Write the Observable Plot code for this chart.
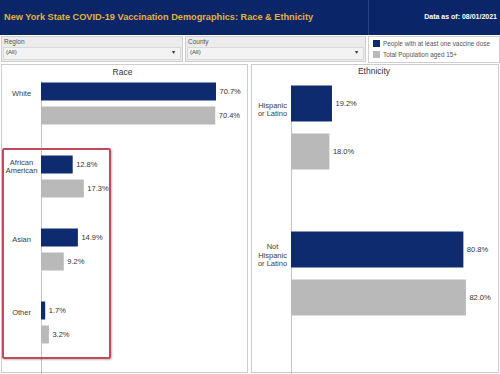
<!DOCTYPE html>
<html>
<head>
<meta charset="utf-8">
<script src="https://cdn.jsdelivr.net/npm/d3@7"></script>
<script src="https://cdn.jsdelivr.net/npm/@observablehq/plot@0.6"></script>
<style>
  body { margin: 0; background: #fff; font-family: "Liberation Sans", Arial, sans-serif; }
  #wrap { position: relative; width: 500px; height: 374px; overflow: hidden; background: #fff; }
  .abs { position: absolute; }
  #header { left: 0; top: 0; width: 500px; height: 35px; background: #0b2668; }
  #title { left: 4px; top: 12px; color: #e2b13c; font-weight: bold; font-size: 9.2px; white-space: nowrap; }
  #asof { right: 3px; top: 13px; color: #fff; font-weight: bold; font-size: 7px; white-space: nowrap; }
  #hdiv { left: 368px; top: 0; width: 1px; height: 35px; background: #2a4585; }
  .filter { top: 36px; height: 26px; background: #ececec; border: 1px solid #cfcfcf; box-sizing: border-box; }
  .flabel { position: absolute; left: 2px; top: 1px; font-size: 6.5px; color: #555; }
  .fdrop { position: absolute; left: 1px; right: 1px; top: 10px; height: 11px; background: #f3f3f3; border: 1px solid #d8d8d8; }
  .fval { position: absolute; left: 2px; top: 1px; font-size: 6px; color: #444; }
  .farrow { position: absolute; right: 5px; top: 0px; font-size: 6px; color: #333; }
  #legend { left: 368px; top: 36px; width: 132px; height: 27px; border: 1px solid #cfcfcf; box-sizing: border-box; background: #fff; }
  .litem { position: absolute; left: 4px; font-size: 6.4px; color: #555; white-space: nowrap; }
  .lsw { display: inline-block; width: 7px; height: 7px; vertical-align: -1px; margin-right: 3px; }
  .panel { top: 64px; height: 309px; border: 1px solid #cdcdcd; box-sizing: border-box; }
  .ptitle { font-size: 8.5px; color: #333; text-align: center; }
  #redbox { left: 2px; top: 148px; width: 109px; height: 211px; border: 2px solid #c24a5c; border-radius: 2px; box-sizing: border-box; box-shadow: 1px 1px 2px rgba(0,0,0,0.25); }
</style>
</head>
<body>
<div id="wrap">
  <div id="header" class="abs"></div>
  <div id="hdiv" class="abs"></div>
  <div id="title" class="abs">New York State COVID-19 Vaccination Demographics: Race &amp; Ethnicity</div>
  <div id="asof" class="abs">Data as of: 08/01/2021</div>

  <div class="abs filter" style="left:1px;width:182px;">
    <div class="flabel">Region</div>
    <div class="fdrop"><span class="fval">(All)</span><span class="farrow">&#9662;</span></div>
  </div>
  <div class="abs filter" style="left:185px;width:181px;">
    <div class="flabel">County</div>
    <div class="fdrop"><span class="fval">(All)</span><span class="farrow">&#9662;</span></div>
  </div>
  <div id="legend" class="abs">
    <div class="litem" style="top:3px;"><span class="lsw" style="background:#0f2b6f"></span>People with at least one vaccine dose</div>
    <div class="litem" style="top:14px;"><span class="lsw" style="background:#b9b9b9"></span>Total Population aged 15+</div>
  </div>

  <div class="abs panel" style="left:1px;width:247px;"></div>
  <div class="abs panel" style="left:251px;width:248px;"></div>
  <div class="abs ptitle" style="left:1px;width:243px;top:67px;">Race</div>
  <div class="abs ptitle" style="left:251px;width:246px;top:66px;">Ethnicity</div>

  <div id="race" class="abs" style="left:1px;top:64px;"></div>
  <div id="eth" class="abs" style="left:251px;top:64px;"></div>
  <div id="redbox" class="abs"></div>
</div>
<script>
// ---- data ----
const seriesKeys = ["vax", "pop"];
const seriesNames = ["People with at least one vaccine dose", "Total Population aged 15+"];
const seriesColors = ["#0f2b6f", "#b9b9b9"];

const raceCategories = ["White", "African American", "Asian", "Other"];
const raceLabels = ["White", "African\nAmerican", "Asian", "Other"];
const raceVaccinated = [70.7, 12.8, 14.9, 1.7];
const racePopulation = [70.4, 17.3, 9.2, 3.2];

const ethCategories = ["Hispanic or Latino", "Not Hispanic or Latino"];
const ethLabels = ["Hispanic\nor Latino", "Not\nHispanic\nor Latino"];
const ethVaccinated = [19.2, 80.8];
const ethPopulation = [18.0, 82.0];

function rows(cats, vax, pop) {
  const out = [];
  cats.forEach((c, i) => {
    out.push({category: c, series: "vax", value: vax[i]});
    out.push({category: c, series: "pop", value: pop[i]});
  });
  return out;
}

function chart(cats, labels, vax, pop, opts) {
  const data = rows(cats, vax, pop);
  const labelRows = cats.map((c, i) => ({category: c, series: "vax", label: labels[i]}));
  return Plot.plot({
    width: 247,
    height: 309,
    marginLeft: 40,
    marginRight: opts.marginRight,
    marginTop: opts.marginTop,
    marginBottom: opts.marginBottom,
    style: {fontFamily: "'Liberation Sans', Arial, sans-serif", background: "transparent", overflow: "visible"},
    x: {domain: [0, opts.xMax], axis: null},
    y: {domain: seriesKeys, padding: opts.yPad, axis: null},
    fy: {domain: cats, axis: null, paddingInner: opts.fyPad, paddingOuter: 0},
    color: {domain: seriesKeys, range: seriesColors},
    marks: [
      Plot.ruleX([0], {stroke: "#c4c4c4", strokeWidth: 1, insetTop: opts.ruleTop, insetBottom: opts.ruleBottom}),
      Plot.barX(data, {fy: "category", y: "series", x: "value", fill: "series"}),
      Plot.text(data, {fy: "category", y: "series", x: "value", text: d => d.value.toFixed(1) + "%",
        textAnchor: "start", dx: 3, fontSize: 7.5, fill: "#333"}),
      Plot.text(labelRows, {fy: "category", y: "series", text: "label", frameAnchor: "left",
        textAnchor: "middle", dx: opts.labelDx, dy: opts.labelDy, lineAnchor: "middle",
        fontSize: 7.5, fill: "#3c3c3c", lineHeight: 1.1})
    ]
  });
}

document.getElementById("race").appendChild(chart(raceCategories, raceLabels, raceVaccinated, racePopulation, {
  marginRight: 9, marginTop: 12.5, marginBottom: 23.5, xMax: 80, yPad: 0.23, fyPad: 0.264,
  ruleTop: 4, ruleBottom: -27, labelDx: -20, labelDy: 1
}));
document.getElementById("eth").appendChild(chart(ethCategories, ethLabels, ethVaccinated, ethPopulation, {
  marginRight: 15, marginTop: 8.5, marginBottom: 45, xMax: 90, yPad: 0.25, fyPad: 0.256,
  ruleTop: 12, ruleBottom: -60, labelDx: -19, labelDy: 5
}));
</script>
</body>
</html>
